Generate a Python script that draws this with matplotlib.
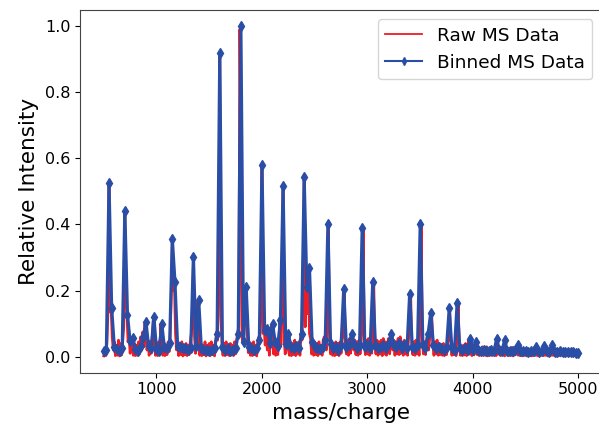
import numpy as np
import matplotlib
matplotlib.use("Agg")
import matplotlib.pyplot as plt

# binned spectrum, bin centres every 25 m/z from 500 to 5000
binned_mz = np.arange(500, 5001, 25)
binned_intensity = [
    0.018, 0.020, 0.526, 0.148,
    0.030, 0.022, 0.018, 0.025,
    0.440, 0.127, 0.046, 0.055,
    0.022, 0.018, 0.032, 0.060,
    0.106, 0.032, 0.025, 0.121,
    0.022, 0.018, 0.099, 0.028,
    0.025, 0.040, 0.356, 0.227,
    0.032, 0.028, 0.025, 0.025,
    0.020, 0.025, 0.302, 0.032,
    0.172, 0.025, 0.020, 0.020,
    0.018, 0.020, 0.025, 0.069,
    0.917, 0.028, 0.020, 0.025,
    0.018, 0.020, 0.025, 0.069,
    1.000, 0.045, 0.210, 0.028,
    0.025, 0.020, 0.025, 0.050,
    0.580, 0.080, 0.084, 0.040,
    0.100, 0.045, 0.032, 0.110,
    0.515, 0.038, 0.070, 0.028,
    0.025, 0.032, 0.025, 0.070,
    0.542, 0.210, 0.268, 0.045,
    0.028, 0.025, 0.022, 0.028,
    0.050, 0.400, 0.038, 0.025,
    0.028, 0.020, 0.035, 0.205,
    0.028, 0.035, 0.070, 0.038,
    0.025, 0.035, 0.390, 0.028,
    0.035, 0.025, 0.225, 0.035,
    0.025, 0.028, 0.035, 0.025,
    0.040, 0.070, 0.035, 0.028,
    0.040, 0.025, 0.035, 0.025,
    0.190, 0.028, 0.025, 0.035,
    0.402, 0.035, 0.025, 0.070,
    0.133, 0.035, 0.025, 0.028,
    0.025, 0.020, 0.030, 0.146,
    0.025, 0.020, 0.163, 0.025,
    0.020, 0.025, 0.020, 0.054,
    0.020, 0.043, 0.020, 0.018,
    0.020, 0.016, 0.018, 0.020,
    0.018, 0.054, 0.020, 0.018,
    0.050, 0.018, 0.016, 0.018,
    0.020, 0.035, 0.018, 0.016,
    0.018, 0.014, 0.016, 0.018,
    0.030, 0.015, 0.016, 0.033,
    0.016, 0.015, 0.035, 0.015,
    0.014, 0.016, 0.013, 0.015,
    0.014, 0.013, 0.015, 0.012,
    0.012,
]

# raw spectrum, sampled every 10 m/z from 500 to 5000
raw_mz = np.arange(500, 5001, 10)
raw_intensity = [
    0.002, 0.015, 0.003, 0.040, 0.130, 0.520, 0.135, 0.145, 0.060, 0.020,
    0.045, 0.003, 0.035, 0.004, 0.050, 0.002, 0.040, 0.005, 0.045, 0.090,
    0.440, 0.200, 0.125, 0.045, 0.060, 0.010, 0.055, 0.035, 0.004, 0.040,
    0.003, 0.035, 0.004, 0.045, 0.008, 0.060, 0.020, 0.075, 0.030, 0.100,
    0.070, 0.020, 0.050, 0.004, 0.045, 0.010, 0.060, 0.115, 0.035, 0.004,
    0.040, 0.003, 0.045, 0.006, 0.095, 0.035, 0.004, 0.040, 0.003, 0.035,
    0.006, 0.045, 0.015, 0.060, 0.180, 0.350, 0.200, 0.220, 0.070, 0.020,
    0.045, 0.003, 0.040, 0.006, 0.045, 0.002, 0.035, 0.005, 0.040, 0.003,
    0.035, 0.006, 0.045, 0.070, 0.110, 0.295, 0.060, 0.010, 0.045, 0.165,
    0.060, 0.004, 0.040, 0.003, 0.035, 0.006, 0.045, 0.002, 0.035, 0.005,
    0.040, 0.003, 0.045, 0.006, 0.035, 0.002, 0.045, 0.075, 0.050, 0.300,
    0.910, 0.120, 0.045, 0.004, 0.040, 0.003, 0.045, 0.006, 0.035, 0.003,
    0.040, 0.005, 0.035, 0.003, 0.045, 0.008, 0.050, 0.075, 0.090, 0.990,
    0.600, 0.060, 0.040, 0.090, 0.130, 0.200, 0.070, 0.012, 0.045, 0.004,
    0.040, 0.003, 0.045, 0.006, 0.035, 0.002, 0.045, 0.060, 0.040, 0.200,
    0.575, 0.070, 0.085, 0.035, 0.080, 0.020, 0.050, 0.004, 0.045, 0.095,
    0.050, 0.008, 0.045, 0.004, 0.040, 0.006, 0.055, 0.105, 0.035, 0.200,
    0.510, 0.050, 0.008, 0.045, 0.070, 0.020, 0.004, 0.045, 0.003, 0.040,
    0.006, 0.050, 0.003, 0.040, 0.008, 0.045, 0.004, 0.070, 0.050, 0.200,
    0.540, 0.090, 0.200, 0.130, 0.265, 0.070, 0.055, 0.008, 0.050, 0.004,
    0.045, 0.006, 0.040, 0.003, 0.045, 0.008, 0.035, 0.004, 0.050, 0.060,
    0.060, 0.020, 0.150, 0.395, 0.050, 0.008, 0.045, 0.004, 0.040, 0.003,
    0.045, 0.006, 0.040, 0.003, 0.045, 0.010, 0.050, 0.070, 0.200, 0.035,
    0.008, 0.050, 0.004, 0.055, 0.010, 0.045, 0.070, 0.020, 0.050, 0.006,
    0.045, 0.004, 0.050, 0.008, 0.045, 0.100, 0.385, 0.040, 0.006, 0.050,
    0.008, 0.055, 0.004, 0.045, 0.010, 0.090, 0.220, 0.040, 0.008, 0.050,
    0.004, 0.045, 0.008, 0.050, 0.003, 0.055, 0.008, 0.045, 0.004, 0.040,
    0.055, 0.008, 0.045, 0.070, 0.020, 0.050, 0.004, 0.045, 0.008, 0.055,
    0.006, 0.060, 0.010, 0.045, 0.004, 0.050, 0.008, 0.045, 0.004, 0.055,
    0.100, 0.185, 0.040, 0.006, 0.045, 0.004, 0.050, 0.008, 0.045, 0.004,
    0.150, 0.395, 0.050, 0.008, 0.045, 0.006, 0.050, 0.070, 0.020, 0.055,
    0.130, 0.120, 0.040, 0.004, 0.045, 0.008, 0.050, 0.004, 0.040, 0.006,
    0.035, 0.004, 0.040, 0.003, 0.035, 0.006, 0.045, 0.050, 0.140, 0.040,
    0.004, 0.035, 0.006, 0.040, 0.003, 0.065, 0.160, 0.040, 0.004, 0.030,
    0.003, 0.035, 0.005, 0.040, 0.003, 0.030, 0.050, 0.008, 0.035, 0.003,
    0.030, 0.005, 0.035, 0.040, 0.006, 0.030, 0.003, 0.025, 0.005, 0.030,
    0.003, 0.025, 0.004, 0.030, 0.002, 0.022, 0.005, 0.028, 0.003, 0.025,
    0.004, 0.028, 0.003, 0.050, 0.008, 0.025, 0.003, 0.028, 0.005, 0.022,
    0.002, 0.045, 0.008, 0.025, 0.003, 0.022, 0.004, 0.028, 0.002, 0.022,
    0.005, 0.025, 0.032, 0.004, 0.022, 0.003, 0.025, 0.002, 0.020, 0.004,
    0.020, 0.002, 0.018, 0.004, 0.020, 0.002, 0.018, 0.003, 0.020, 0.004,
    0.028, 0.003, 0.018, 0.002, 0.020, 0.004, 0.018, 0.003, 0.030, 0.004,
    0.018, 0.002, 0.020, 0.003, 0.018, 0.004, 0.032, 0.003, 0.018, 0.002,
    0.016, 0.003, 0.018, 0.002, 0.015, 0.004, 0.016, 0.002, 0.015, 0.003,
    0.015, 0.002, 0.014, 0.003, 0.016, 0.002, 0.014, 0.003, 0.013, 0.002,
    0.010,
]

fig = plt.figure(figsize=(5.99, 4.30), dpi=100)
ax = fig.add_axes([80 / 599, 57.5 / 430, 522.2 / 599, 363 / 430])

ax.plot(raw_mz, raw_intensity, color="#ee1c25", lw=1.9, label="Raw MS Data")
ax.plot(binned_mz, binned_intensity, color="#2a4ea6", lw=2.3,
        marker="d", markersize=5.5, label="Binned MS Data")

ax.set_xlabel("mass/charge", fontsize=15.5)
ax.set_ylabel("Relative Intensity", fontsize=15.5)
ax.tick_params(labelsize=11.5)
for s in ax.spines.values():
    s.set_color("#444444")

leg = ax.legend(loc="upper right", fontsize=13.3, borderaxespad=0,
                bbox_to_anchor=(0.981, 0.973))
leg.get_lines()[0].set_linewidth(1.3)
leg.get_lines()[1].set_linewidth(1.5)
leg.get_lines()[1].set_markersize(4)

fig.savefig("out.png", dpi=100)
